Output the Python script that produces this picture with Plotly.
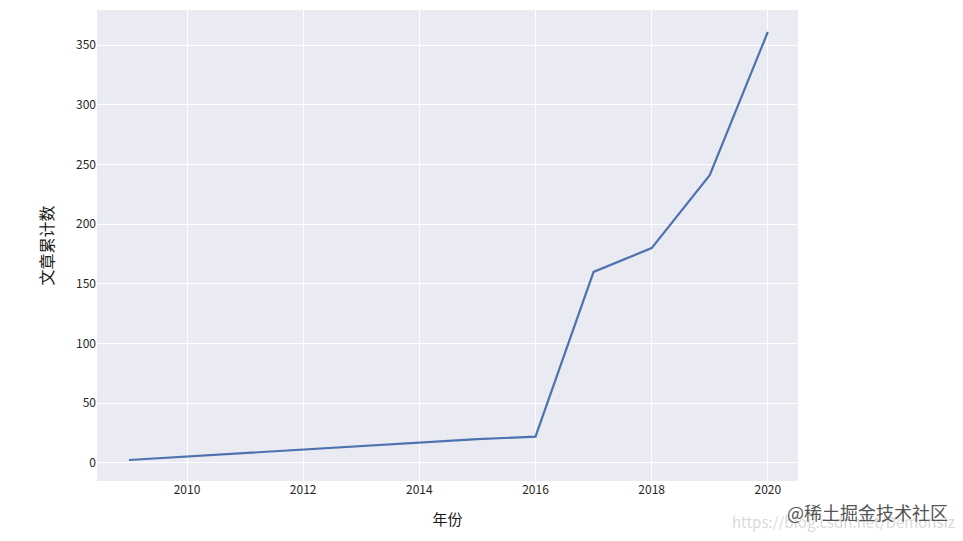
import plotly.graph_objects as go

years = [2009, 2010, 2011, 2012, 2013, 2014, 2015, 2016, 2017, 2018, 2019, 2020]
counts = [2.5, 5.5, 8.5, 11.5, 14, 17, 20, 22, 160, 180, 241, 361]
x_ticks = [2010, 2012, 2014, 2016, 2018, 2020]
y_ticks = [0, 50, 100, 150, 200, 250, 300, 350]

font_family = "Noto Sans CJK SC, DejaVu Sans, sans-serif"

fig = go.Figure()
fig.add_trace(go.Scatter(x=years, y=counts, mode="lines",
                         line=dict(color="#4C72B0", width=2.2),
                         showlegend=False, hoverinfo="x+y"))

fig.update_layout(
    width=963, height=541,
    paper_bgcolor="white", plot_bgcolor="#EAEAF2",
    margin=dict(l=89, r=173, t=2, b=68),
    font=dict(family=font_family, color="#262626", size=12),
    xaxis=dict(range=[2008.45, 2020.52], tickvals=x_ticks, showgrid=True,
               gridcolor="white", gridwidth=1.2, zeroline=False, showline=False,
               ticks="", tickfont=dict(size=12, color="#262626"),
               title=dict(text="年份", font=dict(size=15, color="#1a1a1a"), standoff=18)),
    yaxis=dict(range=[-15.1, 379.4], tickvals=y_ticks, showgrid=True,
               gridcolor="white", gridwidth=1.2, zeroline=False, showline=False,
               ticks="", tickfont=dict(size=12, color="#262626"),
               title=dict(text="文章累计数", font=dict(size=16, color="#1a1a1a"), standoff=18)),
)

fig.add_annotation(xref="paper", yref="paper", x=0.903, y=-0.087, xanchor="left", yanchor="middle",
                   text="https://blog.csdn.net/DemonsIzh", showarrow=False,
                   font=dict(size=15, color="#DADADA", family=font_family))
fig.add_annotation(xref="paper", yref="paper", x=0.9815, y=-0.0658, xanchor="left", yanchor="middle",
                   text="@稀土掘金技术社区", showarrow=False,
                   font=dict(size=18, color="#555555", family=font_family))

fig.write_html("out.html")
